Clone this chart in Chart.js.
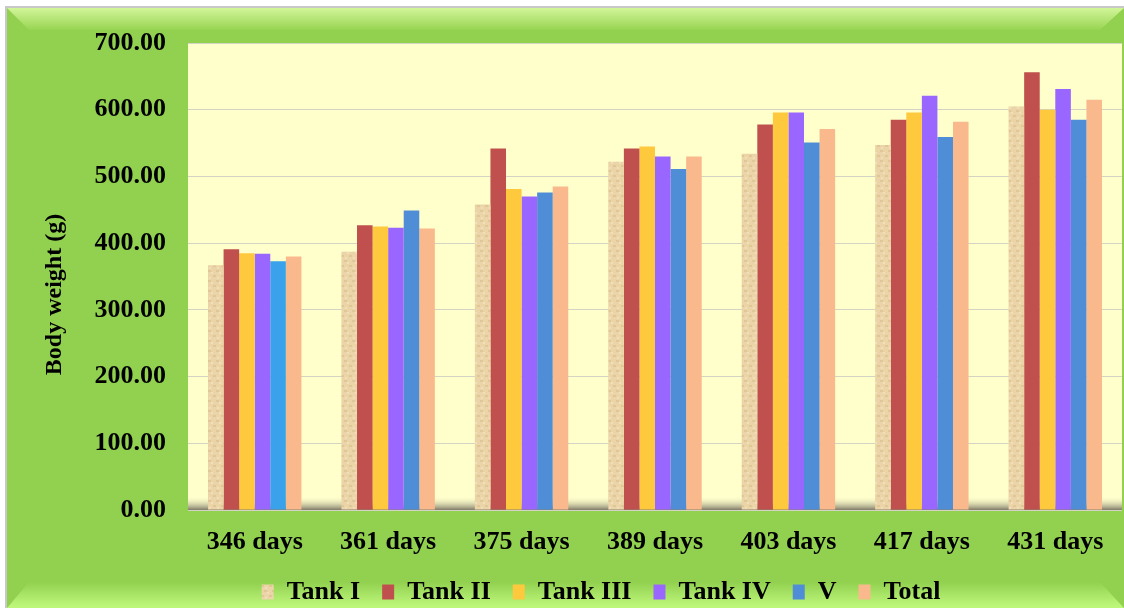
<!DOCTYPE html>
<html>
<head>
<meta charset="utf-8">
<script src="https://cdn.jsdelivr.net/npm/chart.js@4.4.1/dist/chart.umd.min.js"></script>
<style>
  html, body { margin: 0; padding: 0; background: #fff; }
  #wrap { width: 1124px; height: 608px; }
</style>
</head>
<body>
<div id="wrap"><canvas id="chart" width="1124" height="608"></canvas></div>
<script>
const days = ['346 days', '361 days', '375 days', '389 days', '403 days', '417 days', '431 days'];
const tank1 = [367, 387, 458, 522, 534, 547, 605];
const tank2 = [391, 427, 542, 542, 578, 585, 656];
const tank3 = [385, 425, 481, 545, 596, 596, 600];
const tank4 = [384, 423, 470, 530, 596, 621, 631];
const tankV = [373, 449, 476, 511, 551, 559, 585];
const total = [380, 422, 485, 530, 571, 582, 615];

const serif = '"Liberation Serif", "Times New Roman", serif';
Chart.defaults.font.family = serif;
Chart.defaults.font.weight = 'bold';
Chart.defaults.font.size = 26;
Chart.defaults.color = '#000';

// sandy texture for Tank I
function sandPattern() {
    const c = document.createElement('canvas');
    c.width = 8; c.height = 10;
    const g = c.getContext('2d');
    g.fillStyle = '#ebd4a8';
    g.fillRect(0, 0, 8, 10);
    g.fillStyle = '#e1c796';
    g.fillRect(0, 0, 3, 2);
    g.fillRect(5, 5, 3, 2);
    g.fillStyle = '#f1dfbb';
    g.fillRect(3, 2, 2, 2);
    g.fillRect(1, 7, 2, 2);
    return g.createPattern(c, 'repeat');
}

const vColors = days.map((d, i) => i == 0 ? '#3aa2ea' : '#4f8ed6');

const panel = {
    id: 'panel',
    beforeDraw(chart) {
        const ctx = chart.ctx;
        const a = chart.chartArea;
        ctx.save();
        ctx.fillStyle = '#ffffff';
        ctx.fillRect(0, 0, 1124, 608);
        ctx.fillStyle = '#c8c8c8';
        ctx.fillRect(5, 6, 1119, 602);
        ctx.fillStyle = '#92d050';
        ctx.fillRect(7, 8, 1117, 600);
        // top bevel
        let g = ctx.createLinearGradient(0, 8, 0, 30);
        g.addColorStop(0, '#d2f59a');
        g.addColorStop(1, '#98d452');
        ctx.fillStyle = g;
        ctx.beginPath();
        ctx.moveTo(7, 8); ctx.lineTo(1124, 8); ctx.lineTo(1100, 30); ctx.lineTo(29, 30);
        ctx.closePath(); ctx.fill();
        // bottom bevel
        g = ctx.createLinearGradient(0, 582, 0, 606);
        g.addColorStop(0, '#92d050');
        g.addColorStop(1, '#bdf77a');
        ctx.fillStyle = g;
        ctx.beginPath();
        ctx.moveTo(29, 582); ctx.lineTo(1100, 582); ctx.lineTo(1124, 608); ctx.lineTo(7, 608);
        ctx.closePath(); ctx.fill();
        // plot area + floor shadow
        ctx.fillStyle = '#ffffcc';
        ctx.fillRect(a.left, a.top, a.right - a.left, a.bottom - a.top);
        g = ctx.createLinearGradient(0, a.bottom - 14, 0, a.bottom);
        g.addColorStop(0, 'rgba(255,255,204,0)');
        g.addColorStop(1, '#7f7a68');
        ctx.fillStyle = g;
        ctx.fillRect(a.left, a.bottom - 14, a.right - a.left, 14);
        ctx.restore();
    }
};

const bold26 = { family: serif, size: 26, weight: 'bold' };

new Chart(document.querySelector('#chart'), {
    type: 'bar',
    data: {
        labels: days,
        datasets: [
            { label: 'Tank I', data: tank1, backgroundColor: sandPattern() },
            { label: 'Tank II', data: tank2, backgroundColor: '#c0504d' },
            { label: 'Tank III', data: tank3, backgroundColor: '#fec93c' },
            { label: 'Tank IV', data: tank4, backgroundColor: '#9966ff' },
            { label: 'V', data: tankV, backgroundColor: vColors },
            { label: 'Total', data: total, backgroundColor: '#fab98c' }
        ]
    },
    options: {
        responsive: false,
        animation: false,
        layout: { padding: { left: 80, right: 2, top: 43, bottom: -7 } },
        datasets: { bar: { barPercentage: 1, categoryPercentage: 0.7 } },
        plugins: {
            tooltip: { enabled: false },
            legend: {
                position: 'bottom',
                labels: {
                    color: '#000',
                    font: bold26,
                    boxWidth: 12,
                    boxHeight: 15,
                    padding: 22,
                    generateLabels(chart) {
                        const items = Chart.defaults.plugins.legend.labels.generateLabels(chart);
                        items.forEach(it => { it.lineWidth = 0; if (it.text == 'V') it.fillStyle = '#4f8ed6'; });
                        return items;
                    }
                }
            }
        },
        scales: {
            x: {
                grid: { display: false },
                border: { display: false },
                ticks: { color: '#000', font: bold26, padding: 9 },
                afterFit(s) { s.height = 47; }
            },
            y: {
                min: 0,
                max: 700,
                ticks: {
                    stepSize: 100,
                    color: '#000',
                    font: bold26,
                    padding: 22,
                    callback: v => v.toFixed(2)
                },
                grid: { color: '#d4d4c4', drawTicks: false },
                border: { display: false },
                title: {
                    display: true,
                    // trailing no-break spaces push the centred label a little lower, as in the original
                    text: 'Body weight (g)\u00a0\u00a0\u00a0\u00a0\u00a0\u00a0',
                    color: '#000',
                    font: { family: serif, size: 24, weight: 'bold' },
                    padding: { top: -40, bottom: 0 }
                },
                afterFit(s) { s.width = 108; }
            }
        }
    },
    plugins: [panel]
});
</script>
</body>
</html>
